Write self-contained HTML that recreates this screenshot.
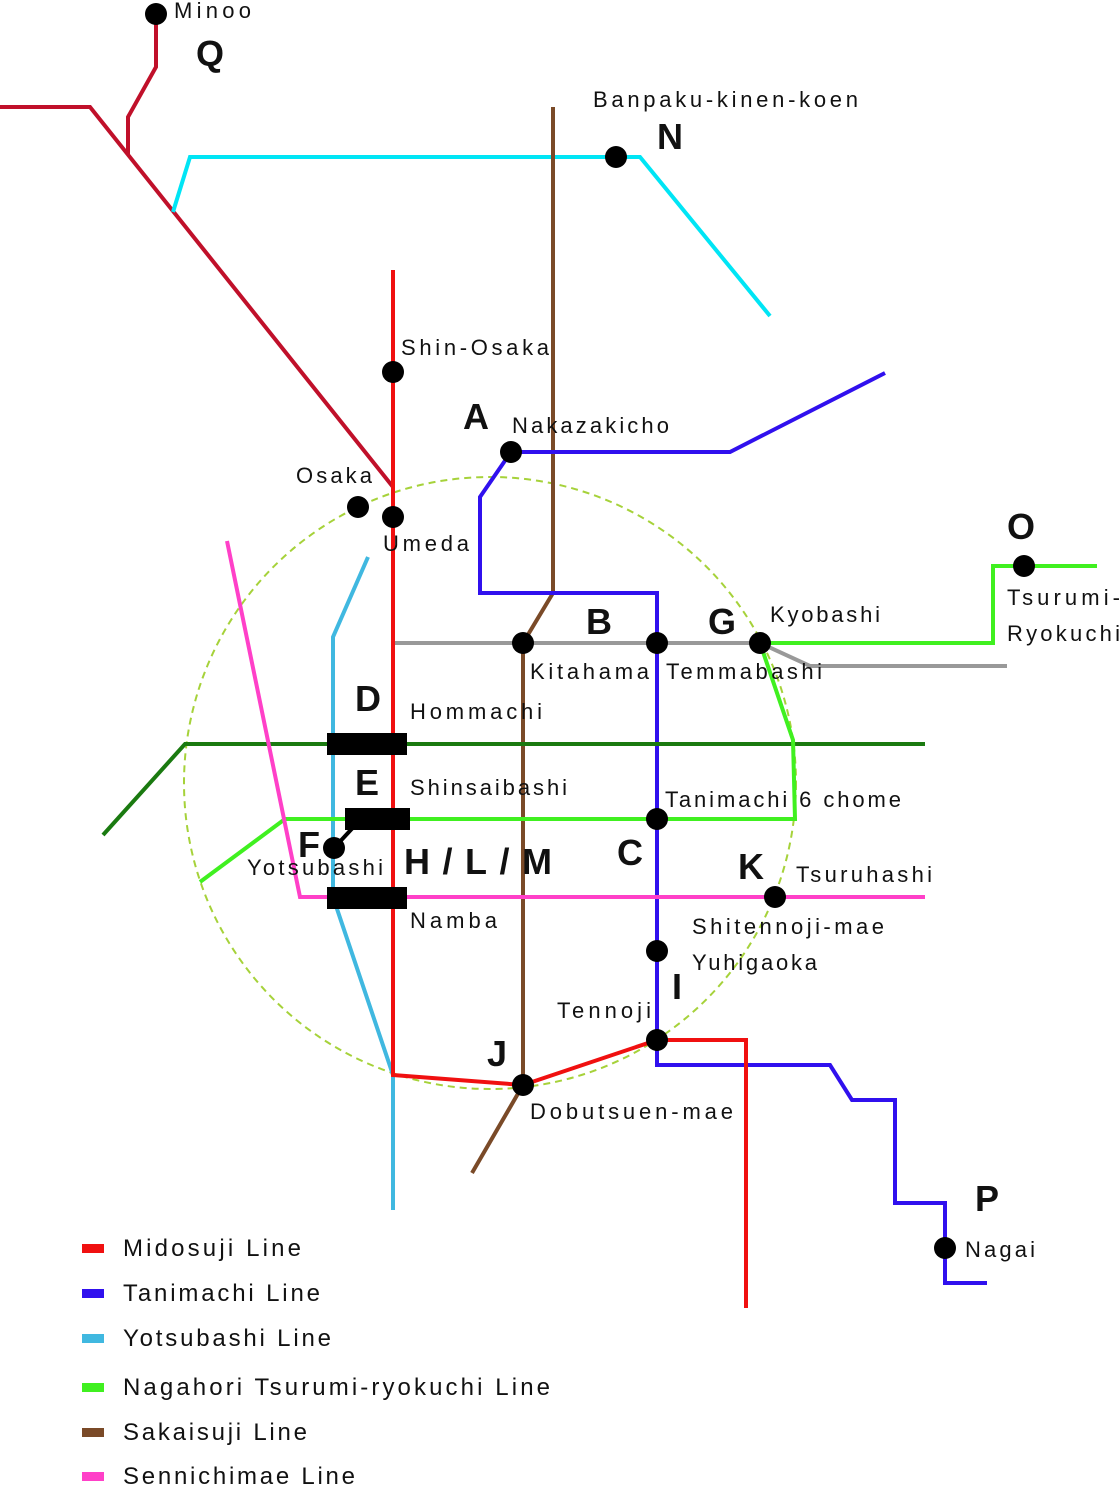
<!DOCTYPE html>
<html><head><meta charset="utf-8"><style>
html,body{margin:0;padding:0;background:#fff;}
svg{display:block;}
text{font-family:"Liberation Sans",sans-serif;fill:#111;}
.n{font-size:22px;}
.b{font-size:36px;font-weight:bold;}
.l{font-size:24px;}
</style></head><body>
<svg width="1120" height="1486" viewBox="0 0 1120 1486" xmlns="http://www.w3.org/2000/svg">
<g fill="none" stroke-width="4" stroke-linejoin="miter">
<ellipse cx="490" cy="783" rx="306" ry="306" stroke="#a6d23a" stroke-width="2" stroke-dasharray="7,5"/>
<polyline points="0,107 90,107 393,487" stroke="#c0102a"/>
<polyline points="128,155 128,117 156,67 156,14" stroke="#c0102a"/>
<polyline points="173,212 190,157 640,157 770,316" stroke="#00e5f5"/>
<polyline points="553,107 553,593 523,643 523,1085 472,1173" stroke="#7a4a28"/>
<polyline points="885,373 730,452 511,452 480,497 480,593 657,593 657,1065 830,1065 852,1100 895,1100 895,1203 945,1203 945,1283 987,1283" stroke="#3010ee"/>
<polyline points="368,557 333,637 333,897 393,1075 393,1210" stroke="#40b8e0"/>
<polyline points="393,643 760,643 810,666 1007,666" stroke="#999"/>
<polyline points="103,835 185,744 925,744" stroke="#1a7a10"/>
<polyline points="200,882 285,819 795,819 793,740 760,643 993,643 993,566 1097,566" stroke="#40f020"/>
<polyline points="227,541 300,897 925,897" stroke="#ff40c8"/>
<polyline points="393,270 393,1075 523,1085 657,1040 746,1040 746,1308" stroke="#f01010"/>
<line x1="334" y1="848" x2="360" y2="820" stroke="#000"/>
</g>
<g fill="#000">
<rect x="327" y="733" width="80" height="22"/>
<rect x="345" y="808" width="65" height="22"/>
<rect x="327" y="887" width="80" height="22"/>
<circle cx="156" cy="14" r="11"/><circle cx="616" cy="157" r="11"/>
<circle cx="393" cy="372" r="11"/><circle cx="511" cy="452" r="11"/>
<circle cx="358" cy="507" r="11"/><circle cx="393" cy="517" r="11"/>
<circle cx="523" cy="643" r="11"/><circle cx="657" cy="643" r="11"/>
<circle cx="760" cy="643" r="11"/><circle cx="1024" cy="566" r="11"/>
<circle cx="334" cy="848" r="11"/><circle cx="657" cy="819" r="11"/>
<circle cx="775" cy="897" r="11"/><circle cx="657" cy="951" r="11"/>
<circle cx="657" cy="1040" r="11"/><circle cx="523" cy="1085" r="11"/>
<circle cx="945" cy="1248" r="11"/>
</g>
<g class="n">
<text x="174" y="18" textLength="77">Minoo</text>
<text x="593" y="107" textLength="265">Banpaku-kinen-koen</text>
<text x="401" y="355" textLength="148">Shin-Osaka</text>
<text x="512" y="433" textLength="157">Nakazakicho</text>
<text x="296" y="483" textLength="76">Osaka</text>
<text x="383" y="551" textLength="86">Umeda</text>
<text x="770" y="622" textLength="110">Kyobashi</text>
<text x="1007" y="605" textLength="113">Tsurumi-</text>
<text x="1007" y="641" textLength="113">Ryokuchi</text>
<text x="530" y="679" textLength="119">Kitahama</text>
<text x="666" y="679" textLength="156">Temmabashi</text>
<text x="410" y="719" textLength="132">Hommachi</text>
<text x="410" y="795" textLength="157">Shinsaibashi</text>
<text x="665" y="807" textLength="236">Tanimachi 6 chome</text>
<text x="247" y="875" textLength="136">Yotsubashi</text>
<text x="796" y="882" textLength="136">Tsuruhashi</text>
<text x="410" y="928" textLength="87">Namba</text>
<text x="692" y="934" textLength="192">Shitennoji-mae</text>
<text x="692" y="970" textLength="125">Yuhigaoka</text>
<text x="557" y="1018" textLength="94">Tennoji</text>
<text x="530" y="1119" textLength="203">Dobutsuen-mae</text>
<text x="965" y="1257" textLength="70">Nagai</text>
</g>
<g class="b">
<text x="196" y="66">Q</text><text x="657" y="149">N</text>
<text x="463" y="429">A</text><text x="586" y="634">B</text>
<text x="708" y="634">G</text><text x="1007" y="539">O</text>
<text x="355" y="711">D</text><text x="355" y="795">E</text>
<text x="298" y="857">F</text><text x="404" y="874" textLength="148">H/L/M</text>
<text x="617" y="865">C</text><text x="738" y="879">K</text>
<text x="672" y="999">I</text><text x="487" y="1066">J</text>
<text x="975" y="1211">P</text>
</g>
<rect x="82" y="1244" width="22" height="9" fill="#f01010"/>
<rect x="82" y="1289" width="22" height="9" fill="#3010ee"/>
<rect x="82" y="1334" width="22" height="9" fill="#40b8e0"/>
<rect x="82" y="1383" width="22" height="9" fill="#40f020"/>
<rect x="82" y="1428" width="22" height="9" fill="#7a4a28"/>
<rect x="82" y="1472" width="22" height="9" fill="#ff40c8"/>
<g class="l">
<text x="123" y="1256" textLength="178">Midosuji Line</text>
<text x="123" y="1301" textLength="197">Tanimachi Line</text>
<text x="123" y="1346" textLength="208">Yotsubashi Line</text>
<text x="123" y="1395" textLength="427">Nagahori Tsurumi-ryokuchi Line</text>
<text x="123" y="1440" textLength="184">Sakaisuji Line</text>
<text x="123" y="1484" textLength="232">Sennichimae Line</text>
</g>
</svg>
</body></html>
